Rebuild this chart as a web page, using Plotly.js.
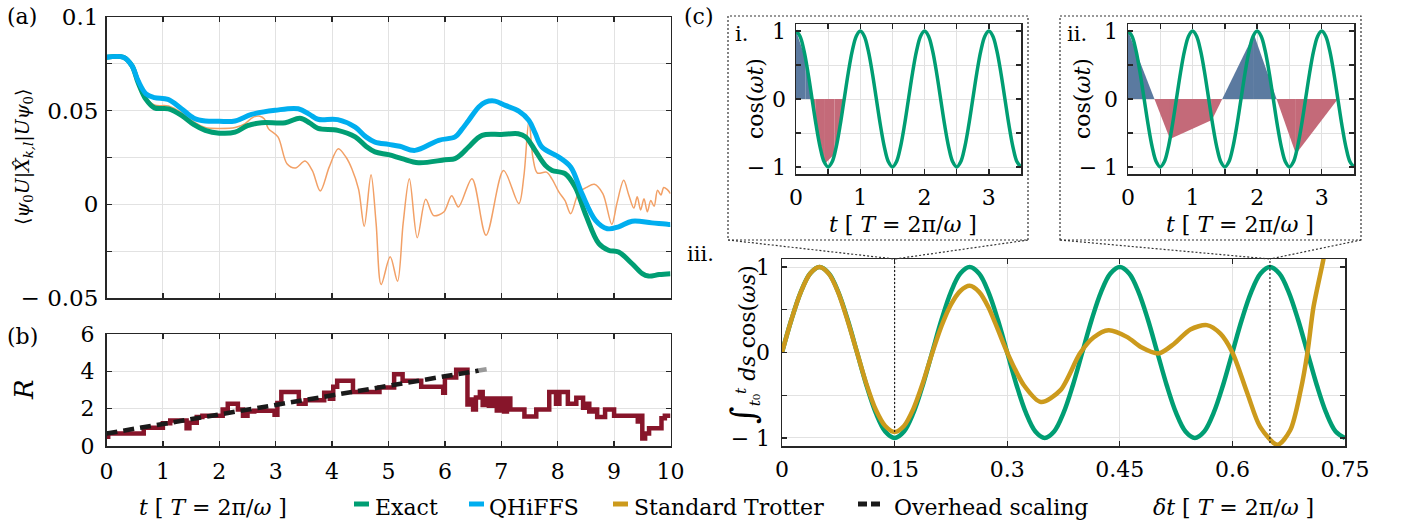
<!DOCTYPE html>
<html><head><meta charset="utf-8">
<script src="https://cdn.plot.ly/plotly-3.0.1.min.js"></script>
<style>html,body{margin:0;padding:0;background:#fff}#plot{width:1401px;height:527px}</style>
</head><body><div id="plot"></div>
<script>
// ---------- DATA ----------
// Panel (a): expectation value vs t
const aExactT = [0,0.3,0.45,0.56,0.7,0.85,1.1,1.33,1.55,1.75,2.0,2.28,2.5,2.75,3.17,3.43,3.6,3.75,4.1,4.41,4.6,4.76,5.0,5.24,5.53,6.0,6.18,6.3,6.42,6.66,7.0,7.3,7.43,7.6,7.78,7.9,8.13,8.31,8.49,8.73,8.9,9.08,9.32,9.5,9.61,9.8,10];
const aExactV = [0.0785,0.0785,0.074,0.065,0.056,0.0515,0.051,0.0475,0.0425,0.0395,0.038,0.0385,0.042,0.0436,0.0436,0.046,0.0435,0.0405,0.0395,0.036,0.031,0.028,0.0265,0.0244,0.0222,0.0238,0.0244,0.027,0.0306,0.0368,0.0373,0.0377,0.036,0.0288,0.0208,0.0181,0.0164,0.0092,-0.005,-0.021,-0.0245,-0.0255,-0.0317,-0.037,-0.0383,-0.0375,-0.037];
const aQhT = [0,0.3,0.45,0.56,0.7,0.85,1.09,1.33,1.55,1.75,2.0,2.28,2.57,2.99,3.4,3.6,3.75,4.1,4.41,4.6,4.76,5.0,5.2,5.47,5.89,6.18,6.3,6.42,6.6,6.72,6.89,7.07,7.31,7.49,7.6,7.72,8.02,8.23,8.43,8.67,8.88,9.08,9.32,9.67,9.97,10];
const aQhV = [0.0785,0.0785,0.074,0.066,0.059,0.057,0.056,0.051,0.046,0.0445,0.0443,0.0445,0.048,0.0502,0.051,0.048,0.0454,0.0452,0.0412,0.036,0.0332,0.032,0.031,0.0288,0.0342,0.036,0.040,0.0448,0.052,0.0546,0.0551,0.0528,0.0498,0.0448,0.038,0.0306,0.0252,0.0199,0.0057,-0.0085,-0.013,-0.012,-0.009,-0.0099,-0.0107,-0.0107];
const aTrotT = [0,0.3,0.45,0.56,0.7,0.85,1.1,1.33,1.55,1.75,2.0,2.28,2.45,2.6,2.72,2.8,2.87,3.04,3.2,3.35,3.52,3.65,3.79,3.95,4.11,4.25,4.35,4.47,4.57,4.69,4.78,4.87,5.03,5.16,5.26,5.37,5.51,5.66,5.8,5.98,6.12,6.24,6.48,6.73,7.04,7.31,7.4,7.49,7.56,7.64,7.8,7.9,8.02,8.13,8.23,8.37,8.52,8.65,8.8,8.96,9.05,9.17,9.26,9.35,9.41,9.47,9.53,9.59,9.65,9.71,9.77,9.83,9.88,9.94,10];
const aTrotV = [0.0785,0.0785,0.074,0.065,0.057,0.053,0.0525,0.049,0.044,0.041,0.0405,0.041,0.043,0.0465,0.047,0.0455,0.0404,0.036,0.0217,0.0194,0.0231,0.018,0.0071,0.02,0.0297,0.025,0.019,0.008,-0.0117,0.0158,-0.01,-0.0428,-0.028,-0.041,-0.01,0.0137,-0.0178,0.0027,-0.006,-0.0041,0.0046,-0.0014,0.0137,-0.0165,0.018,0.0004,0.015,0.0448,0.025,0.0167,0.0172,0.0135,0.0066,0.002,-0.005,0.006,0.0092,0.0107,0.0057,-0.0107,0.0005,0.0128,0.005,-0.002,0.004,-0.003,0.003,-0.004,0.002,-0.001,0.0075,0.005,0.009,0.008,0.0057];
// Panel (b): overhead R vs t (step values)
const bT = [0,0.03,0.66,1.0,1.13,1.42,1.47,1.6,1.7,2.06,2.15,2.33,2.42,2.5,2.62,2.98,3.03,3.1,3.41,3.53,3.86,3.96,4.02,4.09,4.37,4.84,5.1,5.25,5.58,5.97,6.0,6.2,6.4,6.45,6.5,6.55,6.62,6.67,6.72,6.78,6.85,6.92,6.98,7.05,7.1,7.16,7.41,7.62,7.85,7.97,8.03,8.18,8.33,8.45,8.5,8.56,8.62,8.7,8.84,9.0,9.42,9.46,9.5,9.55,9.62,9.84,9.9,10];
const bR = [0.5,0.67,0.98,1.22,1.36,0.95,1.25,1.55,1.62,1.95,2.27,1.95,1.62,1.85,1.89,1.67,2.31,2.89,2.27,2.45,2.85,2.53,3.18,3.49,2.89,3.13,3.85,3.49,3.18,2.85,3.67,4.09,2.22,2.49,1.95,2.6,2.89,2.2,2.55,2.15,2.55,1.9,2.55,1.85,2.55,1.95,1.58,1.95,2.89,2.27,2.89,2.27,2.58,2.05,2.27,1.85,1.95,1.55,1.95,1.62,1.31,1.62,0.4,0.67,0.95,1.49,1.62,1.62];
const ovT = [0,6.6];
const ovR = [0.67,4.04];
const ovFadeT = [6.6,6.8];
const ovFadeR = [4.04,4.14];
// Panels (c-i),(c-ii): cos(wt), sampled every 1/16 period
const cosT = [0,0.0625,0.125,0.1875,0.25,0.3125,0.375,0.4375,0.5,0.5625,0.625,0.6875,0.75,0.8125,0.875,0.9375,1,1.0625,1.125,1.1875,1.25,1.3125,1.375,1.4375,1.5,1.5625,1.625,1.6875,1.75,1.8125,1.875,1.9375,2,2.0625,2.125,2.1875,2.25,2.3125,2.375,2.4375,2.5,2.5625,2.625,2.6875,2.75,2.8125,2.875,2.9375,3,3.0625,3.125,3.1875,3.25,3.3125,3.375,3.4375,3.5];
const cosV = [1,0.924,0.707,0.383,0,-0.383,-0.707,-0.924,-1,-0.924,-0.707,-0.383,0,0.383,0.707,0.924,1,0.924,0.707,0.383,0,-0.383,-0.707,-0.924,-1,-0.924,-0.707,-0.383,0,0.383,0.707,0.924,1,0.924,0.707,0.383,0,-0.383,-0.707,-0.924,-1,-0.924,-0.707,-0.383,0,0.383,0.707,0.924,1,0.924,0.707,0.383,0,-0.383,-0.707,-0.924,-1];
const ciSampT = [0,0.15,0.3,0.45,0.6,0.75];
const ciSampV = [1,0.588,-0.309,-0.951,-0.809,0];
const ciiSampT = [0,0.65,1.3,1.95,2.6,3.25];
const ciiSampV = [1,-0.588,-0.309,0.951,-0.809,0];
// Panel (c-iii)
const exT = [0,0.0125,0.025,0.0375,0.05,0.0625,0.075,0.0875,0.1,0.1125,0.125,0.1375,0.15,0.1625,0.175,0.1875,0.2,0.2125,0.225,0.2375,0.25,0.2625,0.275,0.2875,0.3,0.3125,0.325,0.3375,0.35,0.3625,0.375,0.3875,0.4,0.4125,0.425,0.4375,0.45,0.4625,0.475,0.4875,0.5,0.5125,0.525,0.5375,0.55,0.5625,0.575,0.5875,0.6,0.6125,0.625,0.6375,0.65,0.6625,0.675,0.6875,0.7,0.7125,0.725,0.7375,0.75];
const exV = [0,0.383,0.707,0.924,1,0.924,0.707,0.383,0,-0.383,-0.707,-0.924,-1,-0.924,-0.707,-0.383,0,0.383,0.707,0.924,1,0.924,0.707,0.383,0,-0.383,-0.707,-0.924,-1,-0.924,-0.707,-0.383,0,0.383,0.707,0.924,1,0.924,0.707,0.383,0,-0.383,-0.707,-0.924,-1,-0.924,-0.707,-0.383,0,0.383,0.707,0.924,1,0.924,0.707,0.383,0,-0.383,-0.707,-0.924,-1];
const trT = [0,0.0125,0.025,0.0375,0.05,0.0625,0.075,0.0875,0.1,0.1125,0.125,0.1375,0.15,0.1625,0.175,0.1875,0.2,0.2125,0.225,0.2375,0.25,0.2625,0.275,0.2875,0.3,0.322,0.345,0.371,0.397,0.415,0.435,0.46,0.478,0.502,0.522,0.544,0.566,0.584,0.6,0.62,0.637,0.66,0.677,0.691,0.7,0.708,0.721,0.73];
const trV = [0,0.383,0.707,0.924,1,0.92,0.70,0.37,0,-0.37,-0.67,-0.86,-0.93,-0.86,-0.66,-0.36,-0.01,0.31,0.56,0.72,0.78,0.71,0.53,0.27,0,-0.38,-0.58,-0.44,-0.01,0.175,0.26,0.18,0.065,-0.01,0.1,0.27,0.32,0.22,0,-0.48,-0.87,-1.08,-0.91,-0.44,0,0.53,1.08,1.5];
const markT = [0.15,0.65];
const markLow = [-0.93,-1.06];
// tick labels
const aYTickVals = [-0.05,0,0.05,0.1];
const aYTickText = ['− 0.05','0','0.05','0.1'];
const tTicks = [0,1,2,3,4,5,6,7,8,9,10];
const bYTicks = [0,2,4,6];
const cTicks = [0,1,2,3];
const cyTicks = [-1,0,1];
const cyText = ['− 1','0','1'];
const c3XTicks = [0,0.15,0.3,0.45,0.6,0.75];
const c3XText = ['0','0.15','0.3','0.45','0.6','0.75'];

// ---------- STYLE ----------
const F = '"DejaVu Serif", "Liberation Serif", "Times New Roman", serif';
const GREEN = '#009E73', CYAN = '#00AEEF', ORANGE = '#F2A066', GOLD = '#CC9A1C', WINE = '#87152A';
const BLUE_F = '#5B7AA0', RED_F = '#C46A79';
const W = 1401, H = 527;
const px = v => v / W, py = v => 1 - v / H;
const tf = s => ({family:F, size:s, color:'#000'});
const GRID = '#e2e2e2';
const minor = d => ({tickmode:'linear', tick0:0, dtick:d, ticks:'inside', ticklen:5, tickwidth:1.3, tickcolor:'#262626', showgrid:true, gridcolor:GRID, gridwidth:1});

function ax(extra) {
  return Object.assign({showline:true, linecolor:'#262626', linewidth:1.5, mirror:'ticks', ticks:'inside',
    ticklen:5, tickwidth:1.3, tickcolor:'#262626', showgrid:true, gridcolor:GRID, gridwidth:1,
    zeroline:false, tickfont:tf(21), fixedrange:true, tickmode:'array'}, extra);
}

const traces = [];
// (a)
traces.push({x:aTrotT, y:aTrotV, xaxis:'x', yaxis:'y', mode:'lines', line:{color:ORANGE, width:1.5, shape:'spline', smoothing:0.9}});
traces.push({x:aExactT, y:aExactV, xaxis:'x', yaxis:'y', mode:'lines', line:{color:GREEN, width:5, shape:'spline', smoothing:1}});
traces.push({x:aQhT, y:aQhV, xaxis:'x', yaxis:'y', mode:'lines', line:{color:CYAN, width:5, shape:'spline', smoothing:1}});
// (b)
traces.push({x:bT, y:bR, xaxis:'x2', yaxis:'y2', mode:'lines', line:{color:WINE, width:4.5, shape:'hv'}});
traces.push({x:ovT, y:ovR, xaxis:'x2', yaxis:'y2', mode:'lines', line:{color:'#1a1a1a', width:4.5, dash:'11px,6px'}});
traces.push({x:ovFadeT, y:ovFadeR, xaxis:'x2', yaxis:'y2', mode:'lines', line:{color:'#9a9a9a', width:4.5, dash:'8px,5px'}});

// fills for c-i / c-ii
function patches(ts, vs, xa, ya) {
  for (let i = 0; i < ts.length - 1; i++) {
    const t0 = ts[i], t1 = ts[i+1], v0 = vs[i], v1 = vs[i+1];
    const polys = [];
    if (v0 * v1 < 0) {
      const tz = t0 + (t1 - t0) * v0 / (v0 - v1);
      polys.push([[t0,0],[t0,v0],[tz,0]]);
      polys.push([[tz,0],[t1,v1],[t1,0]]);
    } else {
      polys.push([[t0,0],[t0,v0],[t1,v1],[t1,0]]);
    }
    polys.forEach(p => {
      const s = p.reduce((a, q) => a + q[1], 0);
      traces.push({x:p.map(q=>q[0]), y:p.map(q=>q[1]), xaxis:xa, yaxis:ya, mode:'lines', fill:'toself',
        fillcolor: s >= 0 ? BLUE_F : RED_F, line:{width:0, color:'rgba(0,0,0,0)'}, hoverinfo:'skip'});
    });
  }
}
patches(ciSampT, ciSampV, 'x3', 'y3');
traces.push({x:cosT, y:cosV, xaxis:'x3', yaxis:'y3', mode:'lines', line:{color:GREEN, width:3.5, shape:'spline', smoothing:1}});
patches(ciiSampT, ciiSampV, 'x4', 'y4');
traces.push({x:cosT, y:cosV, xaxis:'x4', yaxis:'y4', mode:'lines', line:{color:GREEN, width:3.5, shape:'spline', smoothing:1}});
// c-iii
traces.push({x:exT, y:exV, xaxis:'x5', yaxis:'y5', mode:'lines', line:{color:GREEN, width:4.5, shape:'spline', smoothing:1}});
traces.push({x:trT, y:trV, xaxis:'x5', yaxis:'y5', mode:'lines', line:{color:GOLD, width:4.5, shape:'spline', smoothing:0.8}});

const aDom = [px(106.5), px(670.5)];

const layout = {
  width:W, height:H, margin:{l:0,r:0,t:0,b:0}, paper_bgcolor:'#fff', plot_bgcolor:'#fff', showlegend:false,
  font:{family:F, color:'#000'},
  xaxis: ax({domain:aDom, range:[0,10], anchor:'y', tickvals:tTicks, showticklabels:false}),
  yaxis: ax({domain:[py(298), py(17)], range:[-0.05,0.1], anchor:'x', tickvals:aYTickVals, ticktext:aYTickText, tickfont:tf(23), ticklabelstandoff:2, minor:minor(0.025)}),
  xaxis2: ax({domain:aDom, range:[0,10], anchor:'y2', tickvals:tTicks, tickfont:tf(22), ticklabelstandoff:5}),
  yaxis2: ax({domain:[py(446), py(334)], range:[0,6], anchor:'x2', tickvals:bYTicks, tickfont:tf(22), ticklabelstandoff:6}),
  xaxis3: ax({domain:[px(796), px(1021)], range:[0,3.5], anchor:'y3', tickvals:cTicks, tickfont:tf(22), ticklabelstandoff:3, minor:minor(0.5)}),
  yaxis3: ax({domain:[py(174), py(24)], range:[-1.103,1.103], anchor:'x3', tickvals:cyTicks, ticktext:cyText, tickfont:tf(22), ticklabelstandoff:4, minor:minor(0.5)}),
  xaxis4: ax({domain:[px(1128), px(1354)], range:[0,3.5], anchor:'y4', tickvals:cTicks, tickfont:tf(22), ticklabelstandoff:3, minor:minor(0.5)}),
  yaxis4: ax({domain:[py(174), py(24)], range:[-1.103,1.103], anchor:'x4', tickvals:cyTicks, ticktext:cyText, tickfont:tf(22), ticklabelstandoff:4, minor:minor(0.5)}),
  xaxis5: ax({domain:[px(782), px(1345)], range:[0,0.75], anchor:'y5', tickvals:c3XTicks, ticktext:c3XText, tickfont:tf(22), ticklabelstandoff:3}),
  yaxis5: ax({domain:[py(446), py(259)], range:[-1.094,1.094], anchor:'x5', tickvals:cyTicks, ticktext:cyText, tickfont:tf(22), ticklabelstandoff:6, minor:minor(0.5)}),
  shapes: [], annotations: []
};

const dotted = {color:'#333', width:1.2, dash:'2px,2px'};
// zoom boxes and connectors
layout.shapes.push({type:'rect', xref:'paper', yref:'paper', x0:px(728), x1:px(1028), y0:py(240), y1:py(16), line:dotted});
layout.shapes.push({type:'rect', xref:'paper', yref:'paper', x0:px(1060), x1:px(1361), y0:py(240), y1:py(16), line:dotted});
const topIII = py(259);
const tx = t => px(782 + t / 0.75 * 563);
layout.shapes.push({type:'line', xref:'paper', yref:'paper', x0:px(728), y0:py(240), x1:tx(markT[0]), y1:topIII, line:dotted});
layout.shapes.push({type:'line', xref:'paper', yref:'paper', x0:px(1028), y0:py(240), x1:tx(markT[0]), y1:topIII, line:dotted});
layout.shapes.push({type:'line', xref:'paper', yref:'paper', x0:px(1060), y0:py(240), x1:tx(markT[1]), y1:topIII, line:dotted});
layout.shapes.push({type:'line', xref:'paper', yref:'paper', x0:px(1361), y0:py(240), x1:tx(markT[1]), y1:topIII, line:dotted});
markT.forEach((t, i) => layout.shapes.push({type:'line', xref:'x5', yref:'y5', x0:t, x1:t, y0:markLow[i], y1:1.094, line:{color:'#222', width:1.2, dash:'2px,2px'}}));

// legend
const LF = 22;
const leg = [
  {x0:354, x1:369, tx:373, c:GREEN, txt:'Exact'},
  {x0:469, x1:484, tx:487, c:CYAN, txt:'QHiFFS'},
  {x0:613, x1:628, tx:632, c:GOLD, txt:'Standard Trotter'}
];
leg.forEach(l => {
  layout.shapes.push({type:'line', xref:'paper', yref:'paper', x0:px(l.x0), x1:px(l.x1), y0:py(504), y1:py(504), line:{color:l.c, width:5}});
  layout.annotations.push({xref:'paper', yref:'paper', x:px(l.tx), y:py(507), xanchor:'left', yanchor:'middle', showarrow:false, text:l.txt, font:tf(LF)});
});
layout.shapes.push({type:'line', xref:'paper', yref:'paper', x0:px(858), x1:px(867), y0:py(504), y1:py(504), line:{color:'#1a1a1a', width:5}});
layout.shapes.push({type:'line', xref:'paper', yref:'paper', x0:px(871), x1:px(880), y0:py(504), y1:py(504), line:{color:'#1a1a1a', width:5}});
layout.annotations.push({xref:'paper', yref:'paper', x:px(892), y:py(507), xanchor:'left', yanchor:'middle', showarrow:false, text:'Overhead scaling', font:tf(LF)});

function ann(x, y, text, size, angle, anchor) {
  layout.annotations.push({xref:'paper', yref:'paper', x:px(x), y:py(y), text:text, showarrow:false,
    xanchor:anchor || 'center', yanchor:'middle', textangle:angle || 0, font:tf(size)});
}
const tT = '<i>t</i> [ <i>T</i> = 2π/<i>ω</i> ]';
ann(22, 17, '(a)', 22);
ann(22, 336, '(b)', 22);
ann(699, 17, '(c)', 22);
ann(741, 34, 'i.', 21);
ann(1077, 34, 'ii.', 21);
ann(700, 254, 'iii.', 21);
ann(24, 157, '⟨<i>ψ</i><sub>0</sub><i>U</i>|<i>X̂</i><sub><i>k,l</i></sub>|<i>Uψ</i><sub>0</sub>⟩', 19, -90);
ann(24, 390, '<i>R</i>', 26, -90);
ann(213, 507, tT, 22);
ann(755, 99, 'cos(<i>ωt</i>)', 22, -90);
ann(1082, 99, 'cos(<i>ωt</i>)', 22, -90);
ann(903, 224, tT, 22);
ann(1240, 224, tT, 22);
ann(743, 345, '<span style="font-size:34px">∫</span><sub><i>t</i>₀</sub><sup><i>t</i></sup> <i>ds</i> cos(<i>ωs</i>)', 22, -90);
ann(1233, 507, '<i>δt</i> [ <i>T</i> = 2π/<i>ω</i> ]', 22);

Plotly.newPlot('plot', traces, layout, {staticPlot:true, displayModeBar:false});
</script></body></html>
